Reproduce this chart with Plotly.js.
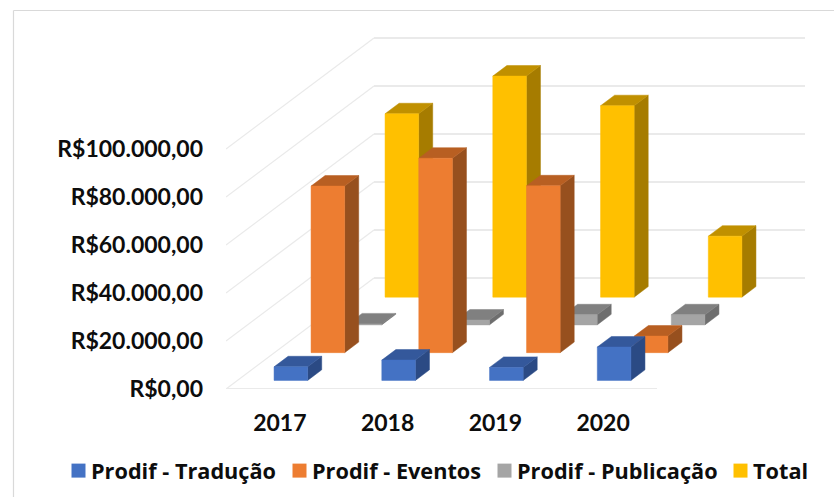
<!DOCTYPE html>
<html><head><meta charset="utf-8">
<script src="https://cdn.plot.ly/plotly-3.0.1.min.js"></script>
<style>html,body{margin:0;padding:0;background:#fff}</style></head>
<body><div id="chart" style="width:834px;height:497px"></div>
<script>
// Data
const years = ['2017','2018','2019','2020'];
const traducao   = [5650, 8450, 5400, 13900];
const eventos    = [69400, 81000, 69500, 6900];
const publicacao = [400, 2000, 4200, 4200];
const total      = [76400, 92100, 79750, 25400];
const valueTicks = [0, 20000, 40000, 60000, 80000, 100000];
const valueLabels = ['R$0,00','R$20.000,00','R$40.000,00','R$60.000,00','R$80.000,00','R$100.000,00'];

// Styles (front, top, side) per series, front row first
const seriesDefs = [
  {name:'Prodif - Tradução',   v:traducao,   c:['#4472C4','#34589B','#2B4A84'], lx:51,  legend:'legend'},
  {name:'Prodif - Eventos',    v:eventos,    c:['#ED7D31','#B85F22','#97501E'], lx:272, legend:'legend2'},
  {name:'Prodif - Publicação', v:publicacao, c:['#A5A5A5','#808080','#6E6E6E'], lx:477, legend:'legend3'},
  {name:'Total',               v:total,      c:['#FFC000','#C09000','#A67C00'], lx:713, legend:'legend4'}
];

// Oblique projection, all in axis units
const L = 226, R = 805, T = 37, B = 389;   // plot area pixels
const pxPerCat = 107.75, pxPerVal = 0.0024;
const depthX = 37 / pxPerCat, depthY = 27.75 / pxPerVal;
const halfW = 16.8 / pxPerCat, gapD = 0.31, thickD = 0.38, barShift = -0.5 / pxPerCat;
const px = (c, z) => c + z * depthX;
const py = (v, z) => v + z * depthY;

function addPoly(p, pts) {
  pts.forEach(q => { p.x.push(px(q[0], q[2])); p.y.push(py(q[1], q[2])); });
  p.x.push(px(pts[0][0], pts[0][2])); p.y.push(py(pts[0][1], pts[0][2]));
  p.x.push(null); p.y.push(null);
}
const traces = [];
const gridColor = '#EAEAEA';
function gridLine(x, y, width) {
  traces.push({type:'scatter', mode:'lines', x, y, line:{color:gridColor, width}, showlegend:false, hoverinfo:'skip'});
}
const nCat = years.length, nSer = seriesDefs.length;
valueTicks.forEach(v => {
  gridLine([px(0,0), px(0,nSer)], [py(v,0), py(v,nSer)], 1.3);
  gridLine([px(0,nSer), px(nCat,nSer)], [py(v,nSer), py(v,nSer)], 2);
});
gridLine([px(0,0), px(nCat,0)], [0, 0], 2);

// Bars: back row first
for (let s = nSer - 1; s >= 0; s--) {
  const d = seriesDefs[s];
  const z0 = s + gapD, z1 = z0 + thickD;
  const side = {x:[],y:[]}, top = {x:[],y:[]}, front = {x:[],y:[]};
  d.v.forEach((v, i) => {
    const a = i + 0.5 - halfW + barShift, b = i + 0.5 + halfW + barShift;
    addPoly(front, [[a,0,z0],[b,0,z0],[b,v,z0],[a,v,z0]]);
    addPoly(top,   [[a,v,z0],[b,v,z0],[b,v,z1],[a,v,z1]]);
    addPoly(side,  [[b,0,z0],[b,0,z1],[b,v,z1],[b,v,z0]]);
  });
  [[side,d.c[2]],[top,d.c[1]],[front,d.c[0]]].forEach(([p,col]) => {
    traces.push({type:'scatter', mode:'lines', x:p.x, y:p.y, fill:'toself', fillcolor:col,
      line:{color:col, width:0.5}, showlegend:false, hoverinfo:'skip', name:d.name});
  });
}
// Legend entries
seriesDefs.forEach(d => {
  traces.push({type:'scatter', mode:'markers', x:[null], y:[null], name:d.name, legend:d.legend,
    marker:{symbol:'square', size:14, color:d.c[0]}, showlegend:true, hoverinfo:'skip'});
});

const W = 834, H = 497;
const tickFont = {family:'Lato, sans-serif', size:23, color:'#0d0d0d', weight:700};
const layout = {
  width:W, height:H, paper_bgcolor:'#fff', plot_bgcolor:'rgba(0,0,0,0)',
  margin:{l:L, r:W-R, t:T, b:H-B, pad:0, autoexpand:false},
  font:{family:'Lato, sans-serif', size:22, color:'#0d0d0d'},
  showlegend:true,
  xaxis:{range:[0,(R-L)/pxPerCat], tickmode:'array', tickvals:years.map((y,i)=>i+0.5), ticktext:years,
    showgrid:false, zeroline:false, showline:false, ticks:'', ticklabelstandoff:18,
    tickfont:tickFont, fixedrange:true},
  yaxis:{range:[0,(B-T)/pxPerVal], tickmode:'array', tickvals:valueTicks, ticktext:valueLabels,
    showgrid:false, zeroline:false, showline:false, ticks:'', ticklabelstandoff:22,
    tickfont:tickFont, fixedrange:true},
  shapes:[
    {type:'line', xref:'paper', yref:'paper', x0:(13.5-L)/(R-L), x1:(W-L)/(R-L), y0:(B-10.5)/(B-T), y1:(B-10.5)/(B-T), line:{color:'#D9D9D9', width:1.2}},
    {type:'line', xref:'paper', yref:'paper', x0:(13.5-L)/(R-L), x1:(13.5-L)/(R-L), y0:(B-10.5)/(B-T), y1:(B-H)/(B-T), line:{color:'#D9D9D9', width:1.2}}
  ]
};
seriesDefs.forEach(d => {
  layout[d.legend] = {x:(d.lx-L)/(R-L), xanchor:'left', y:(B-471)/(B-T), yanchor:'middle',
    orientation:'v', bgcolor:'rgba(0,0,0,0)', borderwidth:0,
    font:{family:'"Open Sans", sans-serif', size:21.7, color:'#0d0d0d', weight:700}};
});
Plotly.newPlot('chart', traces, layout, {displayModeBar:false, staticPlot:true}).then(gd => {
  // the swatches sit closer to their labels in the reference
  gd.querySelectorAll('.legendsymbols').forEach(g => g.setAttribute('transform', 'translate(7.5,0)'));
});
</script></body></html>
